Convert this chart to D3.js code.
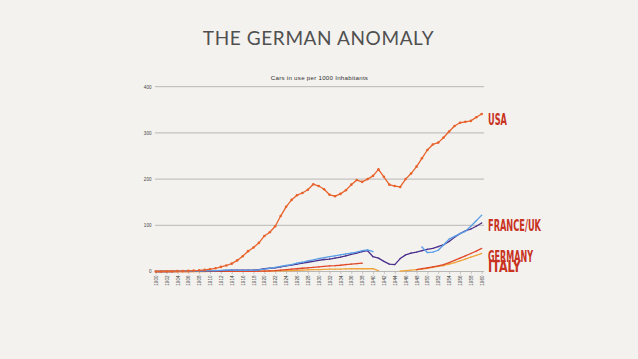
<!DOCTYPE html>
<html><head><meta charset="utf-8">
<script src="https://cdn.jsdelivr.net/npm/d3@7/dist/d3.min.js"></script>
<style>
html,body{margin:0;padding:0;background:#f3f2ef;}
svg{display:block;}
</style></head>
<body>
<script>
const years = d3.range(1900, 1961);
const tickYears = d3.range(1900, 1961, 2);
const yTicks = [0, 100, 200, 300, 400];

const usa = [0,0,0.5,0.5,1,1,1.5,2,2.5,3.5,5,7,10,13,17,24,33,44,52,62,77,85,98,120,140,155,165,170,177,189,185,178,166,163,168,176,188,198,194,200,207,221,205,188,185,183,200,212,227,245,263,275,279,290,303,315,322,324,326,334,341];
const uk = [0,0,0,0,0.2,0.4,0.6,0.8,1,1.2,1.5,1.8,2,2.5,3,3,3,3,3,4,6,7,8,10,12,14,16,18,20,22,24,26,27,29,31,34,37,40,43,45,32,29,22,16,15,28,36,40,42,45,48,50,54,58,65,74,82,88,92,98,105];
const france = [0,0,0.1,0.2,0.3,0.5,0.7,0.9,1.1,1.4,1.7,2,2.5,3,3,2.5,2.5,2.5,2.5,3.5,5,7,9,11,13,15,18,20,23,25,28,30,32,34,36,38,40,42,45,47,43,null,null,null,null,null,null,null,null,53,41,42,46,58,70,76,82,87,98,110,122];
const germany = [0,0,0,0,0,0,0,0.1,0.1,0.2,0.2,0.3,0.3,0.4,0.4,0.4,0.4,0.4,0.5,0.7,1,1.5,2,3,4,5,6,7,8,9,10,11,12,12.5,13.5,15,16,17,18,null,null,null,null,null,null,null,null,null,4,6,8,10,12,15,19,24,29,34,39,44,50];
const italy = [0,0,0,0,0,0,0,0,0,0,0.1,0.1,0.2,0.2,0.2,0.2,0.2,0.3,0.4,0.6,0.8,1,1.2,1.5,1.8,2,2.5,3,3.5,4,4,4.5,5,5,5,5.5,6,6,6,6,6,2,null,null,null,1,2,3,4,5,7,9,11,13,16,19,23,27,31,35,39];

const series = [
  {name:"Italy", values: italy, color:"#f0a43c", r:0.7},
  {name:"Germany", values: germany, color:"#e0492a", r:0.7},
  {name:"UK", values: uk, color:"#4b2f8c", r:0.7},
  {name:"France", values: france, color:"#5a9ee6", r:0.7},
  {name:"USA", values: usa, color:"#e8632b", r:1.3}
];

const labels = [
  {text:"USA", y:125, w:19},
  {text:"FRANCE/UK", y:230.7, w:53},
  {text:"GERMANY", y:261.5, w:45},
  {text:"ITALY", y:271.5, w:33}
];

const W = 638, H = 359;
const svg = d3.select("body").append("svg").attr("width", W).attr("height", H);

const x = d3.scaleLinear().domain([1900, 1960]).range([155.7, 481.7]);
const y = d3.scaleLinear().domain([0, 400]).range([271.5, 86.7]);

// title
svg.append("text").attr("x", 318.5).attr("y", 45)
  .attr("text-anchor", "middle")
  .attr("font-family", "Lato, 'Open Sans', sans-serif")
  .attr("font-size", 19).attr("fill", "#505050")
  .attr("letter-spacing", 0.6)
  .text("THE GERMAN ANOMALY");

svg.append("text").attr("x", 319.5).attr("y", 79.5)
  .attr("text-anchor", "middle")
  .attr("font-family", "'Liberation Sans', Arial, sans-serif")
  .attr("font-size", 6.2).attr("fill", "#333")
  .attr("letter-spacing", 0.25)
  .text("Cars in use per 1000 Inhabitants");

// gridlines
const grid = svg.append("g");
grid.selectAll("line").data(yTicks.filter(d => d > 0)).join("line")
  .attr("x1", 155).attr("x2", 484)
  .attr("y1", d => y(d)).attr("y2", d => y(d))
  .attr("stroke", "#a8a8a8").attr("stroke-width", 0.8);

// y axis labels
svg.append("g").selectAll("text").data(yTicks).join("text")
  .attr("x", 151.5).attr("y", d => y(d) + 1.8)
  .attr("text-anchor", "end")
  .attr("font-family", "'Liberation Sans', Arial, sans-serif")
  .attr("font-size", 4.6).attr("fill", "#444")
  .text(d => d);

// x axis
const xAxis = d3.axisBottom(x).tickValues(tickYears).tickSize(2.5).tickFormat(d3.format("d"));
const gx = svg.append("g").attr("transform", `translate(0,${y(0)})`).call(xAxis);
gx.select(".domain").attr("stroke", "#a8a8a8").attr("stroke-width", 0.8).attr("d", `M155,0H484`);
gx.selectAll(".tick line").attr("stroke", "#a8a8a8").attr("stroke-width", 0.6);
gx.selectAll(".tick text")
  .attr("font-family", "'Liberation Sans', Arial, sans-serif")
  .attr("font-size", 4.6).attr("fill", "#444")
  .attr("text-anchor", "end")
  .attr("transform", "rotate(-90)")
  .attr("x", -4).attr("y", 0).attr("dy", "0.35em");

// lines
const line = d3.line()
  .defined(d => d.v !== null)
  .x(d => x(d.year)).y(d => y(d.v));

series.forEach(s => {
  const pts = years.map((yr, i) => ({year: yr, v: s.values[i]}));
  svg.append("path").datum(pts)
    .attr("d", line).attr("fill", "none")
    .attr("stroke", s.color).attr("stroke-width", 1.3)
    .attr("stroke-linejoin", "round");
  svg.append("g").selectAll("circle").data(pts.filter(d => d.v !== null)).join("circle")
    .attr("cx", d => x(d.year)).attr("cy", d => y(d.v))
    .attr("r", s.r).attr("fill", s.color);
});

// right labels
svg.append("g").selectAll("text").data(labels).join("text")
  .attr("x", 488).attr("y", d => d.y)
  .attr("font-family", "'Liberation Sans Narrow', 'DejaVu Sans Condensed', 'Liberation Sans', sans-serif")
  .attr("font-weight", "bold")
  .attr("font-size", 15).attr("fill", "#c8321e")
  .attr("textLength", d => d.w).attr("lengthAdjust", "spacingAndGlyphs")
  .text(d => d.text);
</script>
</body></html>
